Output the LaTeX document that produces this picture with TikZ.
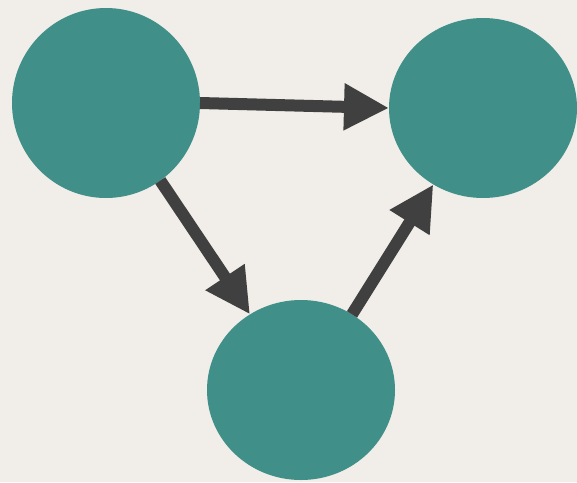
\documentclass[tikz,border=0pt]{standalone}
\usetikzlibrary{shapes.geometric,arrows.meta}
\definecolor{bg}{HTML}{F1EEE9}
\definecolor{teal}{HTML}{418F89}
\definecolor{arr}{HTML}{404040}
\begin{document}
\begin{tikzpicture}[x=1pt,y=-1pt,
  blob/.style={ellipse,fill=teal,draw=none,inner sep=0pt,outer sep=0pt},
  link/.style={draw=arr,line width=12pt,-{Triangle[length=45pt,width=44pt]}}]
\fill[bg] (0,0) rectangle (577,482);
\useasboundingbox (0,0) rectangle (577,482);
\node[blob,minimum width=188pt,minimum height=190pt] (a) at (106,103) {};
\node[blob,minimum width=188pt,minimum height=180pt] (b) at (483,108) {};
\node[blob,minimum width=188pt,minimum height=180pt] (c) at (301,390) {};
\draw[link] (a.east) -- (b.west);
\draw[link] (a.-55) -- (c.124);
\draw[link] (c.56) -- (b.237);
\end{tikzpicture}
\end{document}
